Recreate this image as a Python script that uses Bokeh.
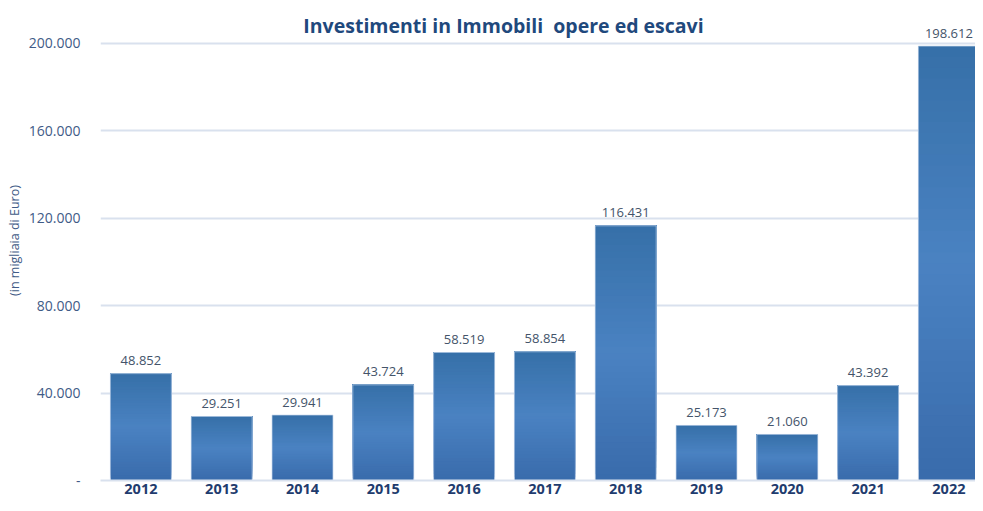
import numpy as np
from bokeh.plotting import figure
from bokeh.models import Range1d, FixedTicker, Label, ColumnDataSource
from bokeh.embed import file_html
from bokeh.resources import INLINE
from bokeh.core.properties import value

# ---- data ----
years = ["2012", "2013", "2014", "2015", "2016", "2017", "2018", "2019", "2020", "2021", "2022"]
values = [48852, 29251, 29941, 43724, 58519, 58854, 116431, 25173, 21060, 43392, 198612]
y_ticks = [0, 40000, 80000, 120000, 160000, 200000]
y_tick_labels = ["-", "40.000", "80.000", "120.000", "160.000", "200.000"]
title_text = "Investimenti in Immobili\u00a0 opere ed escavi"
y_label = "(in migliaia di Euro)"

# ---- layout ----
PX_PER_UNIT = 87.5 / 40000.0
FRAME_H = 480
FRAME_LEFT = 100
CAT_PX = 80.8
BAR_W = 61.0 / CAT_PX
FRAME_W = 975 - FRAME_LEFT

idx = np.arange(len(years))
p = figure(width=975, height=503, output_backend="svg", toolbar_location=None,
           x_range=Range1d(-0.5, -0.5 + FRAME_W / CAT_PX),
           y_range=Range1d(0, FRAME_H / PX_PER_UNIT),
           min_border_left=FRAME_LEFT, min_border_right=0, min_border_top=0,
           min_border_bottom=503 - FRAME_H)
p.outline_line_color = None
p.background_fill_color = "white"
p.border_fill_color = "white"

# ---- gradient bars (stacked overlays, each from its start up to the bar top) ----
top_c = np.array([54, 112, 168])
mid_c = np.array([74, 130, 194])
bot_c = np.array([57, 107, 171])
N = 40
xs, bots, tops, cols = [], [], [], []
for i, v in enumerate(values):
    for k in range(N):
        t = (k + 0.5) / N
        if t < 0.5:
            c = bot_c + (mid_c - bot_c) * (t / 0.5)
        else:
            c = mid_c + (top_c - mid_c) * ((t - 0.5) / 0.5)
        c = np.round(c).astype(int)
        xs.append(idx[i])
        bots.append(v * k / N)
        tops.append(v)
        cols.append("#%02x%02x%02x" % tuple(c))
p.vbar(x=xs, bottom=bots, top=tops, width=BAR_W, fill_color=cols, line_color=None)
p.vbar(x=idx, top=values, width=BAR_W, fill_color=None, line_color="#C9D8EC",
       line_width=1, line_alpha=0.7)

# ---- data labels ----
lab_src = ColumnDataSource(dict(x=idx, y=values,
                                t=[f"{v:,}".replace(",", ".") for v in values]))
p.text(x="x", y="y", text="t", source=lab_src, text_align="center",
       text_baseline="alphabetic", y_offset=-13, text_font=value("Open Sans"),
       text_font_size="13px", text_color="#44546A")

# ---- axes ----
p.xaxis.ticker = FixedTicker(ticks=list(idx))
p.xaxis.major_label_overrides = {int(i): y for i, y in zip(idx, years)}
p.xaxis.major_tick_line_color = None
p.xaxis.minor_tick_line_color = None
p.xaxis.major_tick_out = 0
p.xaxis.major_tick_in = 0
p.xaxis.axis_line_color = "#D9E1EE"
p.xaxis.axis_line_width = 2
p.xaxis.major_label_standoff = 3
p.xaxis.major_label_text_font = "Open Sans"
p.xaxis.major_label_text_font_style = "bold"
p.xaxis.major_label_text_font_size = "14.5px"
p.xaxis.major_label_text_color = "#1F3C6E"

p.yaxis.ticker = FixedTicker(ticks=y_ticks)
p.yaxis.major_label_overrides = {t: l for t, l in zip(y_ticks, y_tick_labels)}
p.yaxis.axis_line_color = None
p.yaxis.major_tick_line_color = None
p.yaxis.minor_tick_line_color = None
p.yaxis.major_tick_out = 0
p.yaxis.major_tick_in = 0
p.yaxis.major_label_standoff = 20
p.yaxis.major_label_text_font = "Open Sans"
p.yaxis.major_label_text_font_size = "14px"
p.yaxis.major_label_text_color = "#3F5B87"
p.yaxis.axis_label = y_label
p.yaxis.axis_label_standoff = 3
p.yaxis.axis_label_text_font = "Open Sans"
p.yaxis.axis_label_text_font_style = "normal"
p.yaxis.axis_label_text_font_size = "12.5px"
p.yaxis.axis_label_text_color = "#3F5B87"

p.xgrid.grid_line_color = None
p.ygrid.ticker = FixedTicker(ticks=y_ticks)
p.ygrid.grid_line_color = "#D9E1EE"
p.ygrid.grid_line_width = 2

# ---- title ----
title = Label(x=(503 - FRAME_LEFT) / CAT_PX - 0.5, y=(FRAME_H - 25) / PX_PER_UNIT,
              text=title_text, text_align="center", text_baseline="middle",
              text_font="Open Sans", text_font_style="bold", text_font_size="19.5px",
              text_color="#1F497D")
p.add_layout(title)

open("out.html", "w").write(file_html(p, INLINE))
